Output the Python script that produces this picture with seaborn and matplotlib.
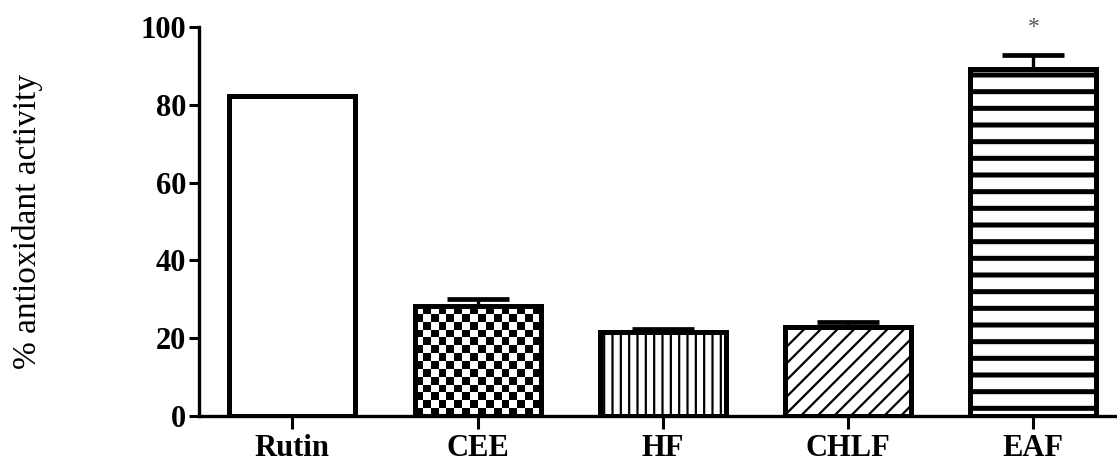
import matplotlib
matplotlib.use("Agg")
import matplotlib.pyplot as plt
import seaborn as sns
import numpy as np
import pandas as pd

# values
groups = ["Rutin", "CEE", "HF", "CHLF", "EAF"]
activity = [82.3, 28.2, 21.6, 22.8, 89.2]
sem = [0.0, 1.8, 0.8, 1.3, 3.6]
hatches = ["", "checker", "||", "//", "-"]
star_group = "EAF"

sns.set_theme(style="ticks")
plt.rcParams["font.family"] = ["Liberation Serif", "DejaVu Serif"]
plt.rcParams["hatch.color"] = "black"
plt.rcParams["hatch.linewidth"] = 1.6
for k in ["text.color", "axes.labelcolor", "xtick.color", "ytick.color"]:
    plt.rcParams[k] = "black"

df = pd.DataFrame({"group": groups, "activity": activity})

fig = plt.figure(figsize=(11.17, 4.61), dpi=100)
ax = fig.add_axes([0.178, 0.0976, 0.83, 0.8438])

sns.barplot(data=df, x="group", y="activity", color="white", edgecolor="black",
            linewidth=3.6, width=0.68, errorbar=None, saturation=1, ax=ax)

ax.set_xlim(-0.505, 4.5)
ax.set_ylim(0, 100)

bars = ax.patches
for p, h in zip(bars, hatches):
    p.set_facecolor("white")
    if h == "checker":
        p.set_facecolor("none")
        # checkerboard fill, roughly 8 px cells
        x0, w, hgt = p.get_x(), p.get_width(), p.get_height()
        px = ax.transData.transform([(x0, 0), (x0 + w, hgt)])
        ncol = int(round((px[1, 0] - px[0, 0]) / 8.0))
        nrow = int(round((px[1, 1] - px[0, 1]) / 8.0))
        checker = (np.add.outer(np.arange(nrow), np.arange(ncol)) % 2).astype(float)
        im = ax.imshow(checker, cmap="gray", extent=(x0, x0 + w, 0, hgt),
                       aspect="auto", interpolation="nearest", zorder=0.9,
                       origin="lower")
        im.set_clip_path(p)
    elif h:
        p.set_hatch(h)
        if h == "-":
            if hasattr(p, "set_hatch_linewidth"):
                p.set_hatch_linewidth(3.6)
            else:
                p._hatch_linewidth = 3.6

ax.set_xlim(-0.505, 4.5)
ax.set_ylim(0, 100)

# one-sided error bars, only where there is an error
xpos = np.arange(len(groups))
sem_arr = np.array(sem)
has_err = sem_arr > 0
ax.errorbar(xpos[has_err], np.array(activity)[has_err],
            yerr=[np.zeros(has_err.sum()), sem_arr[has_err]], fmt="none",
            ecolor="black", elinewidth=2.4, capsize=22, capthick=3.4, zorder=0.8)

i = groups.index(star_group)
ax.text(xpos[i], 100.0, "*", ha="center", va="center", fontsize=17,
        color="#555555")

ax.set_yticks([0, 20, 40, 60, 80, 100])
ax.set_xlabel("")
ax.set_ylabel("% antioxidant activity", fontsize=24, labelpad=70)
ax.tick_params(axis="both", labelsize=22, width=2.2, direction="out",
               colors="black")
ax.tick_params(axis="y", length=7, pad=2)
ax.tick_params(axis="x", length=9, pad=4)
for lab in ax.get_xticklabels() + ax.get_yticklabels():
    lab.set_fontweight("bold")

sns.despine(ax=ax)
ax.spines["left"].set_linewidth(2.4)
ax.spines["bottom"].set_linewidth(2.4)
ax.spines["left"].set_color("black")
ax.spines["bottom"].set_color("black")

fig.savefig("out.png", dpi=100)
